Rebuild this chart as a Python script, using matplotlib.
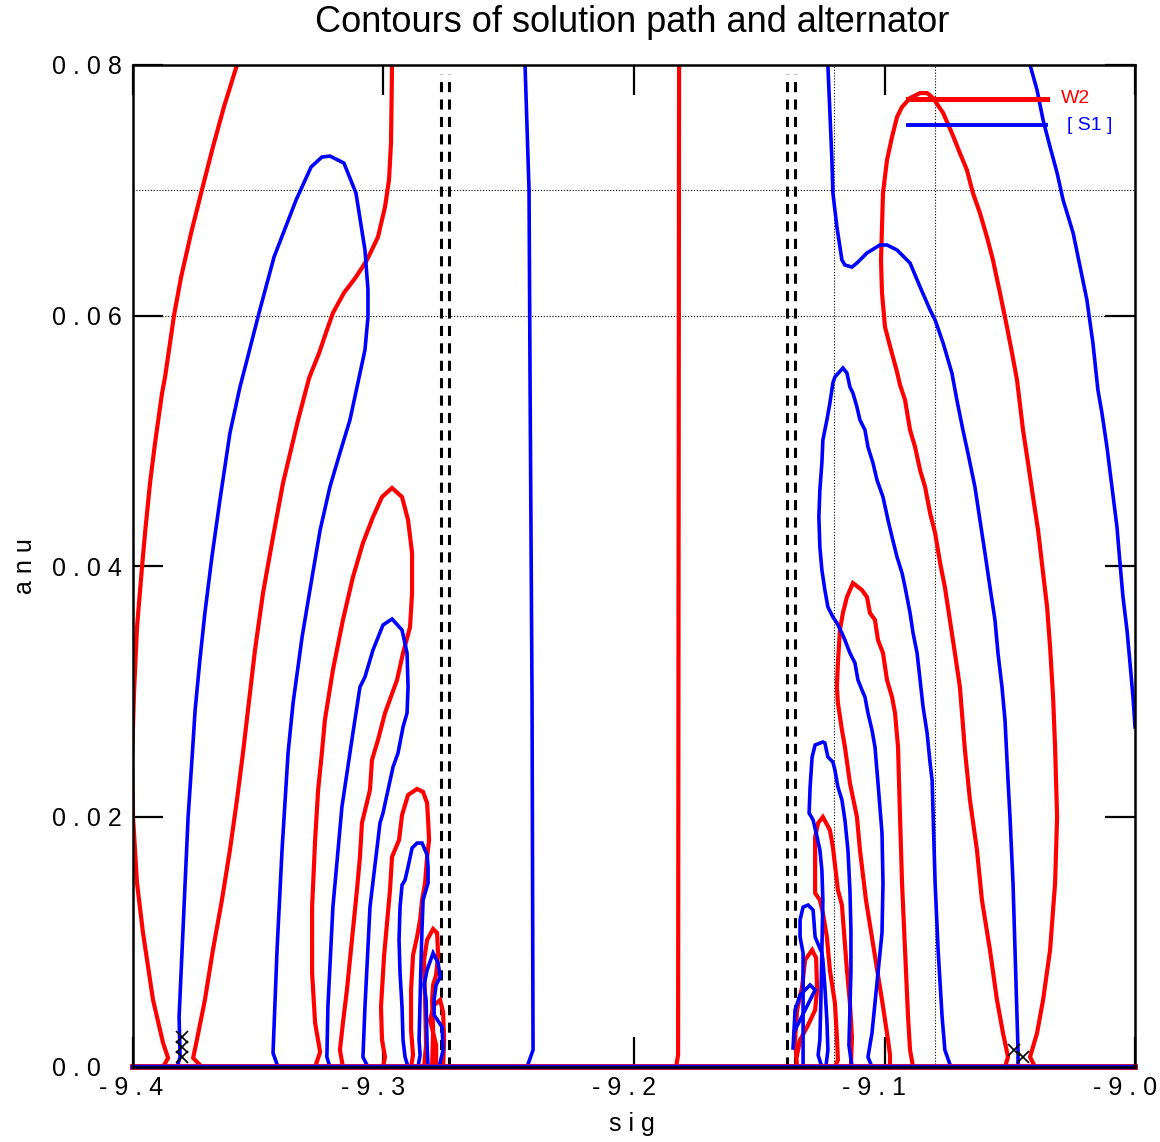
import matplotlib
matplotlib.use("Agg")
import matplotlib.pyplot as plt
import matplotlib.transforms as mtransforms

plt.rcParams['font.family'] = ['Liberation Sans', 'DejaVu Sans']

# ---------------- data (sig, anu) ----------------
# W2 contours (red)
w2_a_x = [-9.3585, -9.3637, -9.3681, -9.3725, -9.3768, -9.3808, -9.3836, -9.3872, -9.3884, -9.3912, -9.3932,
          -9.3952, -9.3964, -9.3984, -9.3996, -9.4004, -9.4000, -9.3984, -9.3960, -9.3920, -9.3880, -9.3860, -9.3880]
w2_a_y = [0.0800, 0.07665, 0.07345, 0.07002, 0.06659, 0.06307, 0.06004, 0.05509, 0.05381, 0.04982, 0.04663,
          0.04263, 0.03992, 0.03513, 0.02986, 0.02451, 0.01996, 0.01469, 0.0107, 0.00535, 0.00192, 0.00072, 0.0]
w2_b_x = [-9.3725, -9.3760, -9.3745, -9.3713, -9.3681, -9.3645, -9.3613, -9.3585, -9.3561, -9.3541, -9.3513,
          -9.3481, -9.3441, -9.3401, -9.3341, -9.3297, -9.3257, -9.3230, -9.3202, -9.3158, -9.3110, -9.3066,
          -9.3022, -9.2994, -9.2978, -9.2970, -9.2966]
w2_b_y = [0.0, 0.00072, 0.00216, 0.00535, 0.00934, 0.01333, 0.01733, 0.02132, 0.02507, 0.0285, 0.03329,
          0.03784, 0.04232, 0.04663, 0.05166, 0.05501, 0.05701, 0.0586, 0.0602, 0.0618, 0.06307, 0.06443,
          0.06627, 0.06866, 0.07082, 0.07377, 0.0800]
w2_c_x = [-9.3273, -9.3253, -9.3273, -9.3285, -9.3285, -9.3273, -9.3261, -9.3246, -9.3234, -9.3202, -9.3162,
          -9.3122, -9.3082, -9.3042, -9.3006, -9.2966, -9.2926, -9.2902, -9.2886, -9.2886, -9.2894, -9.2922,
          -9.2946, -9.2994, -9.3022, -9.3046, -9.3054, -9.3086, -9.3094, -9.3106, -9.3126, -9.3146, -9.3162,
          -9.3174, -9.3162]
w2_c_y = [0.0, 0.0012, 0.00351, 0.0075, 0.01277, 0.01812, 0.02212, 0.02507, 0.0277, 0.0317, 0.03569,
          0.03912, 0.04184, 0.04391, 0.04551, 0.04623, 0.04551, 0.04367, 0.04104, 0.03784, 0.03513, 0.03305,
          0.0309, 0.02826, 0.02611, 0.02451, 0.02212, 0.01948, 0.01677, 0.01413, 0.01014, 0.00615, 0.00351,
          0.00136, 0.0]
w2_d_x = [-9.3002, -9.2994, -9.3006, -9.3010, -9.2998, -9.2986, -9.2974, -9.2966, -9.2938, -9.2926, -9.2902,
          -9.2866, -9.2842, -9.2826, -9.2822, -9.2818, -9.2826, -9.2834, -9.2846, -9.2854, -9.2866, -9.2882,
          -9.2890, -9.2890, -9.2882, -9.2890]
w2_d_y = [0.0, 0.0008, 0.00216, 0.00479, 0.00878, 0.0115, 0.01413, 0.01677, 0.01812, 0.02012, 0.02172,
          0.0222, 0.02196, 0.02108, 0.01972, 0.01812, 0.01677, 0.01469, 0.01333, 0.01174, 0.01038, 0.00894,
          0.00615, 0.00295, 0.00096, 0.0]
w2_e_x = [-9.2838, -9.2830, -9.2834, -9.2838, -9.2826, -9.2802, -9.2786, -9.2782, -9.2790, -9.2802, -9.2806,
          -9.2802, -9.2806]
w2_e_y = [0.0, 0.00176, 0.00535, 0.00854, 0.01014, 0.01102, 0.0107, 0.00894, 0.00735, 0.00655, 0.00535,
          0.00295, 0.0]
w2_f_x = [-9.2790, -9.2790, -9.2814, -9.2798, -9.2774, -9.2762, -9.2758, -9.2762]
w2_f_y = [0.0, 0.00176, 0.00375, 0.00495, 0.00535, 0.00439, 0.00216, 0.0]
w2_g_x = [-9.1820, -9.1824, -9.1832]
w2_g_y = [0.0800, 0.00096, 0.0]
# right group
w2_h_x = [-9.0519, -9.0507, -9.0527, -9.0551, -9.0579, -9.0611, -9.0631, -9.0659, -9.0679, -9.0699, -9.0719,
          -9.0739, -9.0759, -9.0778, -9.0798, -9.0818, -9.0838, -9.0858, -9.0878, -9.0898, -9.0918, -9.0938,
          -9.0950, -9.0974, -9.0998, -9.1010, -9.1014, -9.1010, -9.1006, -9.0990, -9.0970, -9.0950, -9.0930,
          -9.0898, -9.0858, -9.0830, -9.0806, -9.0766, -9.0731, -9.0699, -9.0671, -9.0647, -9.0619, -9.0591,
          -9.0567, -9.0539, -9.0511, -9.0491, -9.0471, -9.0447, -9.0427, -9.0407, -9.0387, -9.0367, -9.0351,
          -9.0339, -9.0327, -9.0319, -9.0311, -9.0319, -9.0339, -9.0367, -9.0391, -9.0419, -9.0399]
w2_h_y = [0.0, 0.0008, 0.00271, 0.00535, 0.00934, 0.01333, 0.01733, 0.02132, 0.02531, 0.03034, 0.03305,
          0.03569, 0.03832, 0.04024, 0.04263, 0.04423, 0.04631, 0.04766, 0.0495, 0.05086, 0.05325, 0.05445,
          0.05549, 0.05725, 0.05908, 0.0618, 0.06443, 0.06707, 0.06978, 0.07242, 0.07425, 0.07585, 0.07665,
          0.07736, 0.07776, 0.07776, 0.07736, 0.07617, 0.07457, 0.07297, 0.07162, 0.06978, 0.06818, 0.06627,
          0.06443, 0.0618, 0.05908, 0.05701, 0.05485, 0.05086, 0.04822, 0.04551, 0.04287, 0.03944, 0.03673,
          0.03353, 0.02954, 0.02555, 0.01996, 0.01469, 0.00934, 0.00535, 0.00271, 0.0008, 0.0]
w2_i_x = [-9.0978, -9.0978, -9.0986, -9.1010, -9.1042, -9.1074, -9.1098, -9.1110, -9.1138, -9.1158, -9.1170,
          -9.1186, -9.1190, -9.1186, -9.1178, -9.1166, -9.1150, -9.1126, -9.1090, -9.1070, -9.1058, -9.1038,
          -9.1026, -9.1006, -9.0990, -9.0970, -9.0958, -9.0946, -9.0938, -9.0930, -9.0918, -9.0906, -9.0898,
          -9.0886]
w2_i_y = [0.0, 0.00096, 0.00216, 0.00535, 0.00934, 0.01333, 0.01733, 0.01996, 0.02267, 0.02555, 0.02691,
          0.02906, 0.03034, 0.03226, 0.03489, 0.03625, 0.03752, 0.03864, 0.03808, 0.03752, 0.03625, 0.03569,
          0.03409, 0.03305, 0.0309, 0.02954, 0.02826, 0.02555, 0.01996, 0.01469, 0.00934, 0.00399, 0.00136, 0.0]
w2_j_x = [-9.1198, -9.1186, -9.1190, -9.1198, -9.1218, -9.1230, -9.1246, -9.1258, -9.1277, -9.1277, -9.1277,
          -9.1265, -9.1246, -9.1218, -9.1206, -9.1186, -9.1170, -9.1150, -9.1138, -9.1130, -9.1134]
w2_j_y = [0.0, 0.00056, 0.0024, 0.00511, 0.00774, 0.01038, 0.0123, 0.01333, 0.01389, 0.01573, 0.01836,
          0.01948, 0.01996, 0.01892, 0.01756, 0.01413, 0.01293, 0.00774, 0.00511, 0.0024, 0.0]
w2_k_x = [-9.1349, -9.1357, -9.1349, -9.1329, -9.1317, -9.1289, -9.1273, -9.1269, -9.1277, -9.1305, -9.1337,
          -9.1349]
w2_k_y = [0.0, 0.00216, 0.00455, 0.00639, 0.00854, 0.00934, 0.0087, 0.00615, 0.00455, 0.00335, 0.00216, 0.00096]

# S1 contours (blue)
s1_a_x = [-9.3824, -9.3812, -9.3816, -9.3804, -9.3792, -9.3780, -9.3764, -9.3752, -9.3733, -9.3713, -9.3685,
          -9.3653, -9.3613, -9.3573, -9.3545, -9.3497, -9.3437, -9.3349, -9.3289, -9.3246, -9.3214, -9.3158,
          -9.3110, -9.3074, -9.3062, -9.3062, -9.3074, -9.3098, -9.3134, -9.3174, -9.3214, -9.3253, -9.3285,
          -9.3325, -9.3361, -9.3381, -9.3405, -9.3425, -9.3441, -9.3421]
s1_a_y = [0.0, 0.0008, 0.00399, 0.00934, 0.01469, 0.01996, 0.02475, 0.0285, 0.03249, 0.03625, 0.04072,
          0.04527, 0.05062, 0.05429, 0.05645, 0.0602, 0.06467, 0.06922, 0.07186, 0.07265, 0.07273, 0.07217,
          0.06978, 0.06523, 0.06204, 0.05988, 0.05725, 0.05501, 0.05166, 0.04902, 0.04631, 0.04287, 0.03912,
          0.03433, 0.02906, 0.02507, 0.01733, 0.00934, 0.00112, 0.0]
s1_b_x = [-9.3214, -9.3226, -9.3222, -9.3202, -9.3166, -9.3134, -9.3122, -9.3094, -9.3074, -9.3042, -9.3002,
          -9.2966, -9.2926, -9.2906, -9.2902, -9.2906, -9.2922, -9.2942, -9.2962, -9.3002, -9.3014, -9.3054,
          -9.3074, -9.3082, -9.3062]
s1_b_y = [0.0, 0.0008, 0.00479, 0.01277, 0.02076, 0.02507, 0.02667, 0.03034, 0.03114, 0.03329, 0.03529,
          0.03577, 0.03489, 0.03305, 0.03034, 0.02826, 0.02715, 0.02507, 0.02395, 0.02028, 0.01948, 0.01277,
          0.00479, 0.0008, 0.0]
s1_c_x = [-9.2902, -9.2914, -9.2922, -9.2926, -9.2934, -9.2938, -9.2934, -9.2926, -9.2914, -9.2902, -9.2886,
          -9.2866, -9.2846, -9.2826, -9.2822, -9.2822, -9.2834, -9.2842, -9.2846, -9.2850, -9.2854, -9.2858,
          -9.2854, -9.2862]
s1_c_y = [0.0, 0.0008, 0.00216, 0.00479, 0.0075, 0.01014, 0.01277, 0.01453, 0.01493, 0.01597, 0.01748,
          0.01788, 0.01788, 0.01693, 0.01597, 0.01469, 0.01389, 0.01333, 0.01118, 0.00854, 0.00535, 0.00216,
          0.00096, 0.0]
s1_d_x = [-9.2822, -9.2826, -9.2830, -9.2838, -9.2826, -9.2802, -9.2782, -9.2774, -9.2790, -9.2798, -9.2798,
          -9.2766, -9.2762, -9.2778]
s1_d_y = [0.0, 0.00176, 0.00535, 0.00655, 0.00774, 0.0091, 0.0083, 0.00719, 0.00655, 0.00535, 0.00415,
          0.00319, 0.00136, 0.0]
s1_e_x = [-9.2427, -9.2403, -9.2407, -9.2415, -9.2419, -9.2435]
s1_e_y = [0.0, 0.00136, 0.0293, 0.0550, 0.0700, 0.0800]
s1_f_x = [-9.1226, -9.1210, -9.1206, -9.1190, -9.1170, -9.1158, -9.1130, -9.1110, -9.1070, -9.1018, -9.0990,
          -9.0950, -9.0898, -9.0858, -9.0818, -9.0798, -9.0766, -9.0731, -9.0711, -9.0687, -9.0667, -9.0639,
          -9.0619, -9.0599, -9.0579, -9.0559, -9.0547, -9.0531, -9.0519, -9.0507, -9.0499, -9.0487, -9.0479,
          -9.0471, -9.0467, -9.0467]
s1_f_y = [0.0800, 0.07242, 0.06978, 0.06707, 0.06443, 0.06403, 0.06387, 0.06419, 0.06499, 0.06563, 0.06563,
          0.06523, 0.06419, 0.06228, 0.06044, 0.05964, 0.0578, 0.05541, 0.05325, 0.05086, 0.04902, 0.04631,
          0.04367, 0.04104, 0.03832, 0.03569, 0.03305, 0.03034, 0.0277, 0.02291, 0.01996, 0.01469, 0.00934,
          0.00399, 0.00136, 0.0]
s1_g_x = [-9.0419, -9.0391, -9.0367, -9.0339, -9.0311, -9.0287, -9.0247, -9.0219, -9.0192, -9.0168, -9.0148,
          -9.0132, -9.0112, -9.0092, -9.0072, -9.0060, -9.0048, -9.0032, -9.0020, -9.0008, -9.0000]
s1_g_y = [0.0800, 0.0780, 0.07561, 0.07345, 0.07138, 0.06922, 0.06659, 0.06387, 0.06124, 0.0578, 0.05405,
          0.05222, 0.0495, 0.04631, 0.04311, 0.04024, 0.03753, 0.03489, 0.03226, 0.02954, 0.02715]
s1_h_x = [-9.1050, -9.1066, -9.1050, -9.1030, -9.1010, -9.1006, -9.1010, -9.1026, -9.1038, -9.1050, -9.1066,
          -9.1078, -9.1090, -9.1106, -9.1118, -9.1138, -9.1158, -9.1170, -9.1190, -9.1206, -9.1226, -9.1238,
          -9.1250, -9.1258, -9.1262, -9.1258, -9.1250, -9.1246, -9.1230, -9.1218, -9.1206, -9.1198, -9.1166,
          -9.1150, -9.1138, -9.1126, -9.1110, -9.1098, -9.1078, -9.1066, -9.1046, -9.1030, -9.1006, -9.0986,
          -9.0970, -9.0950, -9.0930, -9.0918, -9.0898, -9.0886, -9.0870, -9.0858, -9.0846, -9.0830, -9.0818,
          -9.0810, -9.0798, -9.0786, -9.0770, -9.0759, -9.0735]
s1_h_y = [0.0, 0.0008, 0.00271, 0.00671, 0.0107, 0.01469, 0.01868, 0.02267, 0.02555, 0.02691, 0.02826,
          0.02954, 0.0301, 0.0309, 0.03226, 0.03305, 0.03409, 0.03465, 0.03545, 0.03593, 0.03673, 0.03808,
          0.03968, 0.04152, 0.04391, 0.04607, 0.04822, 0.05006, 0.05166, 0.05301, 0.05461, 0.05509, 0.05581,
          0.05541, 0.05429, 0.05381, 0.05269, 0.05166, 0.05086, 0.0495, 0.04822, 0.04687, 0.04551, 0.04367,
          0.04232, 0.04072, 0.03944, 0.03832, 0.03625, 0.03465, 0.03305, 0.0309, 0.02874, 0.02667, 0.02427,
          0.02291, 0.01469, 0.00934, 0.00399, 0.00136, 0.0]
s1_i_x = [-9.1250, -9.1265, -9.1258, -9.1254, -9.1250, -9.1246, -9.1250, -9.1258, -9.1269, -9.1285, -9.1301,
          -9.1297, -9.1289, -9.1277, -9.1246, -9.1238, -9.1226, -9.1206, -9.1198, -9.1186, -9.1170, -9.1158,
          -9.1146, -9.1138, -9.1134, -9.1134, -9.1138, -9.1142, -9.1130]
s1_i_y = [0.0, 0.00096, 0.00216, 0.00535, 0.00934, 0.01333, 0.01573, 0.01733, 0.01836, 0.01972, 0.02028,
          0.02236, 0.02475, 0.02571, 0.02595, 0.02587, 0.02475, 0.02435, 0.02371, 0.02236, 0.02132, 0.01972,
          0.01733, 0.01413, 0.01094, 0.00774, 0.00455, 0.00176, 0.0]
s1_j_x = [-9.1234, -9.1226, -9.1230, -9.1238, -9.1246, -9.1250, -9.1277, -9.1285, -9.1305, -9.1325, -9.1337,
          -9.1337, -9.1325, -9.1325]
s1_j_y = [0.0, 0.00136, 0.00375, 0.00639, 0.00854, 0.0091, 0.01038, 0.01253, 0.01293, 0.01277, 0.01174,
          0.01038, 0.0091, 0.0]
s1_k_x = [-9.1365, -9.1357, -9.1337, -9.1297, -9.1277, -9.1297, -9.1317, -9.1337, -9.1357]
s1_k_y = [0.00152, 0.00455, 0.00575, 0.00655, 0.00615, 0.00535, 0.00455, 0.00375, 0.00296]

w2_curves = [(w2_a_x, w2_a_y), (w2_b_x, w2_b_y), (w2_c_x, w2_c_y), (w2_d_x, w2_d_y), (w2_e_x, w2_e_y),
             (w2_f_x, w2_f_y), (w2_g_x, w2_g_y), (w2_h_x, w2_h_y), (w2_i_x, w2_i_y), (w2_j_x, w2_j_y),
             (w2_k_x, w2_k_y)]
s1_curves = [(s1_a_x, s1_a_y), (s1_b_x, s1_b_y), (s1_c_x, s1_c_y), (s1_d_x, s1_d_y), (s1_e_x, s1_e_y),
             (s1_f_x, s1_f_y), (s1_g_x, s1_g_y), (s1_h_x, s1_h_y), (s1_i_x, s1_i_y), (s1_j_x, s1_j_y),
             (s1_k_x, s1_k_y)]

pole_sig = [-9.2772, -9.2739, -9.1391, -9.1357]
grid_sig = [-9.12, -9.08]
grid_anu = [0.06, 0.07]
path_x_sig = [-9.3804, -9.3804, -9.3804, -9.0483, -9.0447]
path_x_anu = [0.0024, 0.0016, 0.0008, 0.00136, 0.0008]

xticks = [-9.4, -9.3, -9.2, -9.1, -9.0]
xticklabels = ['- 9 . 4', '- 9 . 3', '- 9 . 2', '- 9 . 1', '- 9 . 0']
yticks = [0.0, 0.02, 0.04, 0.06, 0.08]
yticklabels = ['0 . 0', '0 . 0 2', '0 . 0 4', '0 . 0 6', '0 . 0 8']

# ---------------- figure ----------------
W, H = 1160, 1142
fig = plt.figure(figsize=(W / 100, H / 100), dpi=100)
ax = fig.add_axes([133 / W, (H - 1067) / H, (1135 - 133) / W, (1067 - 65) / H])
ax.set_xlim(-9.4, -9.0)
ax.set_ylim(0.0, 0.08)

for g in grid_sig:
    ax.axvline(g, color='black', lw=0.8, ls=(0, (1, 1.6)), zorder=1)
for g in grid_anu:
    ax.axhline(g, color='black', lw=0.8, ls=(0, (1, 1.6)), zorder=1)

for p in pole_sig:
    ax.plot([p, p], [0.0, 0.0793], color='black', lw=2.2, ls=(0, (3.3, 2.4)), zorder=2)

RED = '#ff0000'
BLUE = '#0000ff'
for cx, cy in w2_curves:
    ax.plot(cx, cy, color=RED, lw=3.0, solid_joinstyle='miter', zorder=3, clip_on=True)
for cx, cy in s1_curves:
    ax.plot(cx, cy, color=BLUE, lw=2.6, solid_joinstyle='miter', zorder=4, clip_on=True)

# zero contour along the axis
ax.plot([-9.4, -9.0], [0.0, 0.0], color=RED, lw=4.2, zorder=5, clip_on=False)
ax.plot([-9.4, -9.0], [0.0, 0.0], color=BLUE, lw=3.2, zorder=6, clip_on=False)

ax.plot(path_x_sig, path_x_anu, ls='none', marker='x', color='black', ms=8, mew=1.2, zorder=7)

# legend (drawn like the original)
ax.plot([0.7735, 0.912], [0.966, 0.966], transform=ax.transAxes, color=RED, lw=3.6, zorder=8, clip_on=False)
ax.plot([0.7735, 0.911], [0.940, 0.940], transform=ax.transAxes, color=BLUE, lw=2.8, zorder=8, clip_on=False)
ax.text(0.926, 0.967, 'W2', transform=ax.transAxes, color=RED, fontsize=14, va='center', ha='left')
ax.text(0.932, 0.940, '[ S1 ]', transform=ax.transAxes, color=BLUE, fontsize=14, va='center', ha='left')

ax.set_xticks(xticks)
ax.set_xticklabels(xticklabels)
ax.set_yticks(yticks)
ax.set_yticklabels(yticklabels)
ax.tick_params(direction='in', length=21.5, width=1.6, top=True, right=True, labelsize=18,
               colors='black')
ax.tick_params(axis='x', pad=6.5)
ax.tick_params(axis='y', pad=58)
for lab in ax.get_yticklabels():
    lab.set_horizontalalignment('left')
for i, lab in enumerate(ax.get_xticklabels()):
    dx = -2 if i == 0 else -10
    lab.set_transform(lab.get_transform() + mtransforms.ScaledTranslation(dx / 100, 0, fig.dpi_scale_trans))
for s in ax.spines.values():
    s.set_linewidth(1.8)
    s.set_zorder(9)

fig.text(632 / W, 1 - 23 / H, 'Contours of solution path and alternator', ha='center', va='center', fontsize=26)
fig.text(632 / W, 1 - 1124 / H, 's i g', ha='center', va='center', fontsize=18)
fig.text(25 / W, 1 - 566 / H, 'a n u', ha='center', va='center', fontsize=18, rotation=90)

fig.savefig('out.png', dpi=100)
